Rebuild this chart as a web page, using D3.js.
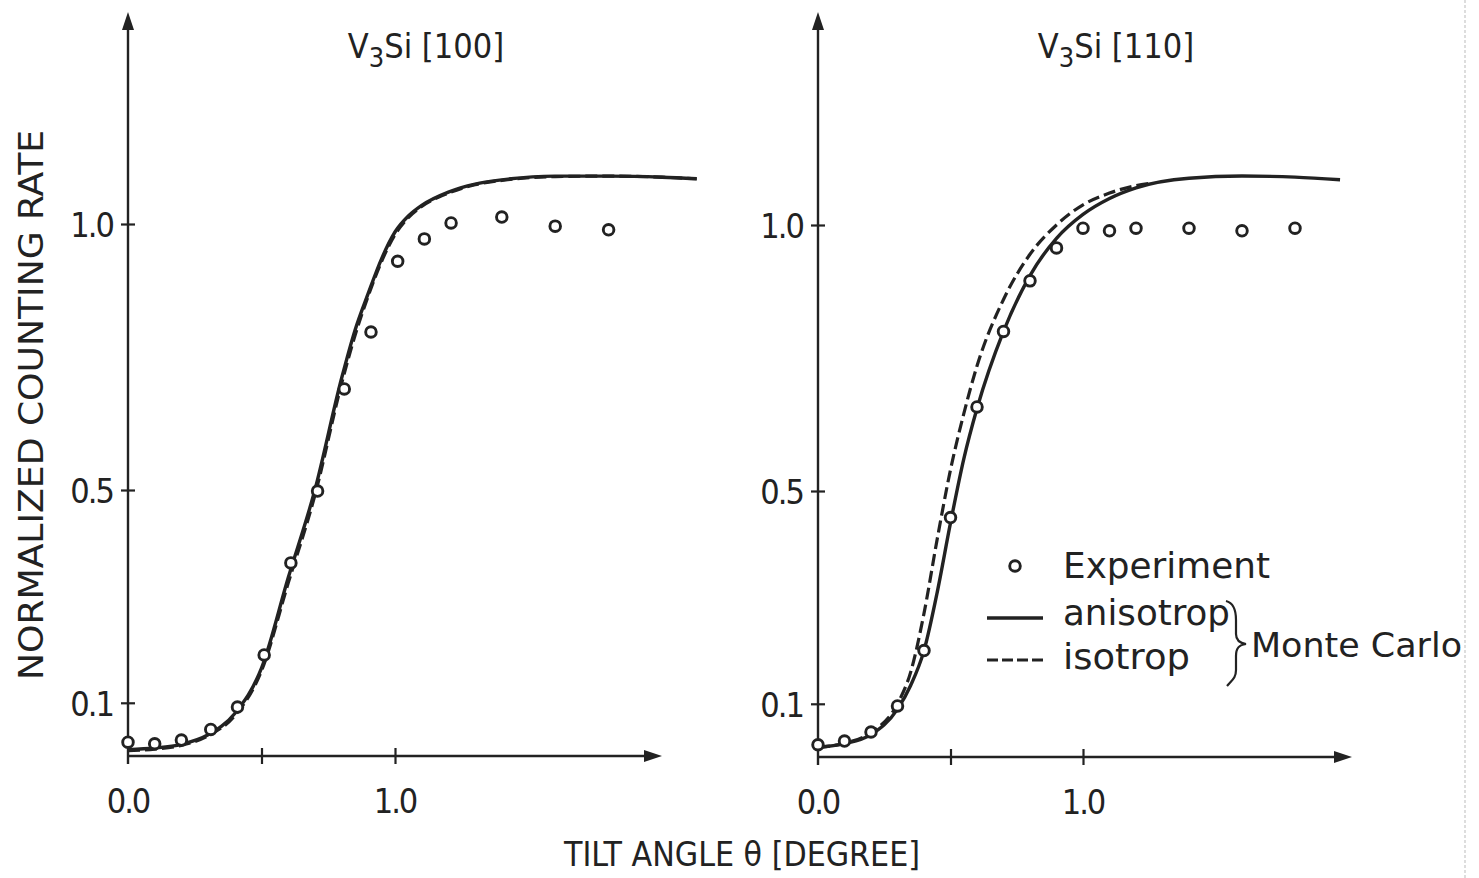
<!DOCTYPE html>
<html><head><meta charset="utf-8">
<script src="https://cdn.jsdelivr.net/npm/d3@7"></script>
<style>
html,body{margin:0;padding:0;background:#fff;}
svg{display:block;}
.cond{font-family:"DejaVu Sans Condensed","Liberation Sans Narrow","DejaVu Sans",sans-serif;}
.leg{font-family:"DejaVu Sans","Noto Sans",sans-serif;}
</style>
</head><body>
<svg id="c" width="1479" height="878"></svg>
<script>
// ---------- DATA ----------
const yTicks = [0.1, 0.5, 1.0];
const yTickLabels = ["0.1", "0.5", "1.0"];
const xTickMarks = [0.5, 1.0];
const xTickLabelVals = [0.0, 1.0];
const xTickLabels = ["0.0", "1.0"];

// Panel A: V3Si [100]
const expX_A = [0.0,0.1,0.2,0.31,0.41,0.51,0.61,0.71,0.81,0.91,1.01,1.11,1.21,1.40,1.60,1.80];
const expY_A = [0.026,0.023,0.030,0.050,0.092,0.19,0.363,0.498,0.69,0.797,0.93,0.972,1.002,1.013,0.996,0.989];
const anisoX_A = [0.0,0.1,0.2,0.3,0.4,0.5,0.6,0.7,0.8,0.85,0.9,0.95,1.0,1.05,1.1,1.2,1.3,1.4,1.6,1.8,2.0,2.13];
const anisoY_A = [0.012,0.015,0.022,0.040,0.080,0.165,0.335,0.50,0.71,0.80,0.87,0.935,0.985,1.015,1.035,1.060,1.075,1.083,1.090,1.090,1.088,1.085];
const isoX_A = [0.0,0.1,0.2,0.3,0.4,0.5,0.6,0.7,0.8,0.85,0.9,0.95,1.0,1.05,1.1,1.2,1.3,1.4,1.6,1.8,2.0,2.13];
const isoY_A = [0.010,0.013,0.020,0.038,0.076,0.160,0.325,0.49,0.70,0.79,0.865,0.93,0.98,1.012,1.033,1.058,1.074,1.082,1.089,1.090,1.088,1.085];

// Panel B: V3Si [110]
const expX_B = [0.0,0.1,0.2,0.3,0.4,0.5,0.6,0.7,0.8,0.9,1.0,1.1,1.2,1.4,1.6,1.8];
const expY_B = [0.023,0.030,0.047,0.096,0.20,0.45,0.658,0.80,0.895,0.957,0.994,0.989,0.994,0.994,0.989,0.994];
const anisoX_B = [0.0,0.1,0.2,0.3,0.35,0.4,0.45,0.5,0.55,0.6,0.7,0.8,0.9,1.0,1.1,1.2,1.4,1.6,1.8,1.97];
const anisoY_B = [0.018,0.025,0.042,0.090,0.135,0.20,0.31,0.44,0.56,0.655,0.80,0.905,0.975,1.02,1.05,1.07,1.088,1.092,1.090,1.085];
const isoX_B = [0.0,0.1,0.2,0.3,0.35,0.4,0.45,0.5,0.55,0.6,0.7,0.8,0.9,1.0,1.1,1.2,1.25];
const isoY_B = [0.018,0.026,0.046,0.100,0.16,0.27,0.41,0.54,0.645,0.735,0.86,0.945,1.0,1.038,1.06,1.074,1.078];

const titles = [["V","3","Si [100]"],["V","3","Si [110]"]];
const yLabel = "NORMALIZED COUNTING RATE";
const xLabel = "TILT ANGLE \u03B8 [DEGREE]";
const legendLabels = ["Experiment","anisotrop","isotrop"];
const legendGroup = "Monte Carlo";

// ---------- DRAW ----------
const svg = d3.select("#c");
const ink = "#222";

const panels = [
  {x: d3.scaleLinear([0,1],[128,395]), y: d3.scaleLinear([0,1],[756,224]),
   xEnd: 662, yTop: 12, title: titles[0], tx: 426,
   exp: expX_A.map((v,i)=>[v,expY_A[i]]),
   aniso: anisoX_A.map((v,i)=>[v,anisoY_A[i]]),
   iso: isoX_A.map((v,i)=>[v,isoY_A[i]])},
  {x: d3.scaleLinear([0,1],[818,1083]), y: d3.scaleLinear([0,1],[757,225]),
   xEnd: 1352, yTop: 12, title: titles[1], tx: 1116,
   exp: expX_B.map((v,i)=>[v,expY_B[i]]),
   aniso: anisoX_B.map((v,i)=>[v,anisoY_B[i]]),
   iso: isoX_B.map((v,i)=>[v,isoY_B[i]])}
];

panels.forEach(p => {
  const g = svg.append("g");
  const x0 = p.x(0), y0 = p.y(0);
  g.append("line").attr("x1",x0).attr("x2",x0).attr("y1",y0+8).attr("y2",p.yTop+14)
    .attr("stroke",ink).attr("stroke-width",2.4);
  g.append("line").attr("x1",x0).attr("x2",p.xEnd-14).attr("y1",y0).attr("y2",y0)
    .attr("stroke",ink).attr("stroke-width",2.4);
  g.append("path").attr("d",`M${x0-6},${p.yTop+18} L${x0},${p.yTop} L${x0+6},${p.yTop+18} Z`).attr("fill",ink);
  g.append("path").attr("d",`M${p.xEnd-18},${y0-6} L${p.xEnd},${y0} L${p.xEnd-18},${y0+6} Z`).attr("fill",ink);

  const ya = d3.axisLeft(p.y).tickValues(yTicks).tickFormat((d,i)=>yTickLabels[i]).tickSize(6).tickPadding(9);
  const yg = g.append("g").attr("transform",`translate(${x0},0)`).call(ya);
  yg.select(".domain").remove();
  yg.selectAll("line").attr("x1",7).attr("x2",-7).attr("stroke",ink).attr("stroke-width",2.2);
  yg.selectAll("text").attr("class","cond").attr("font-size",34).attr("fill",ink).attr("font-family",null)
    .attr("letter-spacing",-2).attr("dy","0.36em");

  const xa = d3.axisBottom(p.x).tickValues(xTickMarks).tickFormat("").tickSize(6);
  const xg = g.append("g").attr("transform",`translate(0,${y0})`).call(xa);
  xg.select(".domain").remove();
  xg.selectAll("line").attr("y1",-8).attr("y2",8).attr("stroke",ink).attr("stroke-width",2.2);
  g.selectAll(".xl").data(xTickLabelVals).join("text")
    .attr("class","cond").attr("x",d=>p.x(d)).attr("y",y0+57)
    .attr("text-anchor","middle").attr("font-size",34).attr("letter-spacing",-2).attr("fill",ink)
    .text((d,i)=>xTickLabels[i]);

  const t = g.append("text").attr("class","cond").attr("x",p.tx).attr("y",58)
    .attr("text-anchor","middle").attr("font-size",34).attr("fill",ink);
  t.append("tspan").text(p.title[0]);
  t.append("tspan").attr("dy",9).attr("font-size",27).text(p.title[1]);
  t.append("tspan").attr("dy",-9).text(p.title[2]);

  const line = d3.line().x(d=>p.x(d[0])).y(d=>p.y(d[1])).curve(d3.curveMonotoneX);
  g.append("path").attr("d",line(p.iso)).attr("fill","none").attr("stroke",ink)
    .attr("stroke-width",3.2).attr("stroke-dasharray","12,5");
  g.append("path").attr("d",line(p.aniso)).attr("fill","none").attr("stroke",ink)
    .attr("stroke-width",3.4);

  g.selectAll(".pt").data(p.exp).join("circle")
    .attr("cx",d=>p.x(d[0])).attr("cy",d=>p.y(d[1])).attr("r",5.3)
    .attr("fill","#fff").attr("stroke",ink).attr("stroke-width",2.9);
});

svg.append("text").attr("class","cond").attr("transform","translate(43,405) rotate(-90)")
  .attr("text-anchor","middle").attr("font-size",34).attr("fill",ink)
  .attr("textLength",550).attr("lengthAdjust","spacingAndGlyphs").text(yLabel);
svg.append("text").attr("class","cond").attr("x",742).attr("y",866)
  .attr("text-anchor","middle").attr("font-size",33).attr("fill",ink)
  .attr("textLength",356).attr("lengthAdjust","spacingAndGlyphs").text(xLabel);

// legend
const lg = svg.append("g");
lg.append("circle").attr("cx",1015).attr("cy",566).attr("r",5.3).attr("fill","#fff")
  .attr("stroke",ink).attr("stroke-width",2.9);
lg.append("line").attr("x1",987).attr("x2",1043).attr("y1",618).attr("y2",618)
  .attr("stroke",ink).attr("stroke-width",3.4);
lg.append("line").attr("x1",987).attr("x2",1043).attr("y1",660).attr("y2",660)
  .attr("stroke",ink).attr("stroke-width",3.2).attr("stroke-dasharray","11,4");
const legW = [207, 167, 127];
[578, 625, 669].forEach((yy,i)=>{
  lg.append("text").attr("class","leg").attr("x",1063).attr("y",yy)
    .attr("font-size",35).attr("fill",ink)
    .attr("textLength",legW[i]).attr("lengthAdjust","spacingAndGlyphs").text(legendLabels[i]);
});
lg.append("path").attr("d","M1226,601 C1234,603 1236,610 1236,620 L1236,634 C1236,640 1239,643 1246,644 C1239,645 1236,648 1236,656 L1236,670 C1236,678 1232,680 1227,686")
  .attr("fill","none").attr("stroke",ink).attr("stroke-width",2.2);
lg.append("text").attr("class","leg").attr("x",1251).attr("y",657)
  .attr("font-size",34).attr("fill",ink)
  .attr("textLength",211).attr("lengthAdjust","spacingAndGlyphs").text(legendGroup);

svg.append("line").attr("x1",1465).attr("x2",1465).attr("y1",0).attr("y2",878)
  .attr("stroke","#bbb").attr("stroke-width",1).attr("stroke-dasharray","3,2");
</script>
</body></html>
